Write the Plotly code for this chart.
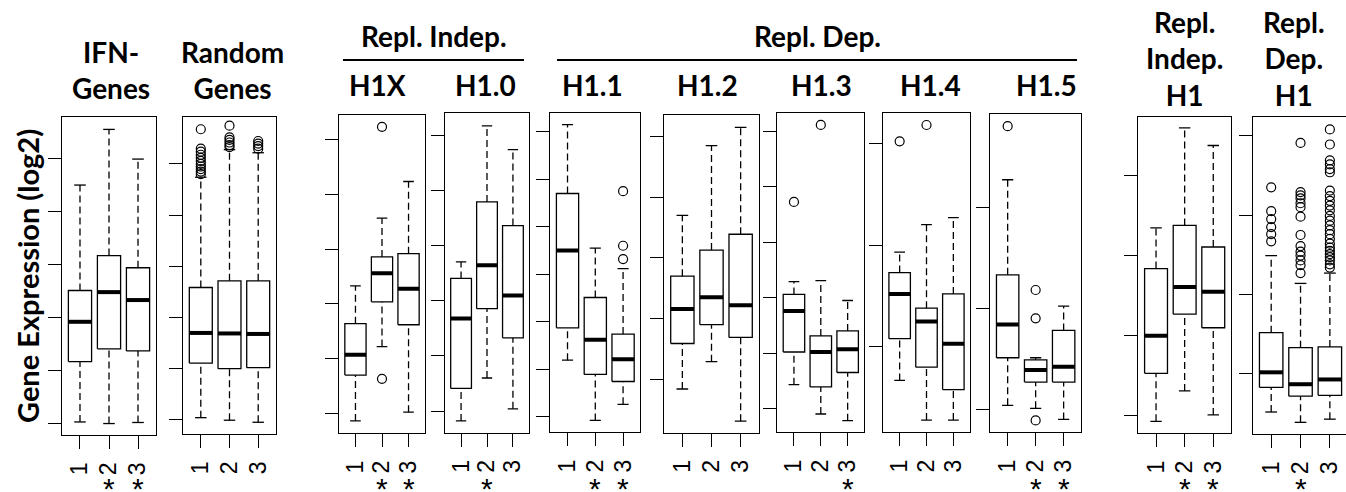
import plotly.graph_objects as go

W, H = 1346, 492

# ---------------- data (arbitrary log2 units, ticks at integers) ----------------
panel_names = ["IFN-Genes", "Random Genes", "H1X", "H1.0", "H1.1", "H1.2",
               "H1.3", "H1.4", "H1.5", "Repl. Indep. H1", "Repl. Dep. H1"]
groups = [1, 2, 3]
tick_labels = ["1", "2", "3"]

lower_whisker = [
    [0.02, -0.01, 0.01],
    [0.03, -0.02, -0.06],
    [-0.14, 1.22, 0.02],
    [-0.18, 0.60, 0.04],
    [1.19, -0.08, 0.26],
    [-0.16, 0.29, -0.69],
    [0.43, -0.10, -0.22],
    [-0.33, -0.72, -0.72],
    [0.04, 0.01, -0.10],
    [-0.07, 0.31, 0.01],
    [-0.48, -0.61, -0.57],
]
q1 = [
    [1.16, 1.40, 1.36],
    [1.10, 0.99, 1.01],
    [0.70, 2.04, 1.62],
    [0.41, 1.86, 1.33],
    [1.87, 0.89, 0.74],
    [0.59, 0.90, 0.69],
    [1.02, 0.39, 0.65],
    [0.08, -0.20, -0.42],
    [0.51, 0.27, 0.27],
    [0.53, 1.27, 1.10],
    [-0.17, -0.28, -0.27],
]
median = [
    [1.91, 2.47, 2.32],
    [1.69, 1.68, 1.67],
    [1.07, 2.56, 2.28],
    [1.68, 2.65, 2.10],
    [3.50, 1.62, 1.21],
    [1.16, 1.35, 1.22],
    [1.76, 1.02, 1.07],
    [0.52, 0.25, 0.03],
    [0.84, 0.39, 0.42],
    [1.00, 1.61, 1.55],
    [0.02, -0.13, -0.07],
]
q3 = [
    [2.50, 3.16, 2.93],
    [2.58, 2.71, 2.71],
    [1.64, 2.86, 2.92],
    [2.41, 3.80, 3.37],
    [4.70, 2.51, 1.74],
    [1.70, 2.13, 2.39],
    [2.06, 1.31, 1.40],
    [0.73, 0.38, 0.52],
    [1.33, 0.49, 0.78],
    [1.84, 2.38, 2.11],
    [0.52, 0.33, 0.34],
]
upper_whisker = [
    [4.49, 5.54, 4.98],
    [4.74, 5.28, 5.22],
    [2.33, 3.57, 4.24],
    [2.71, 5.18, 4.75],
    [6.15, 3.55, 3.12],
    [2.70, 3.85, 4.15],
    [2.29, 2.31, 1.95],
    [0.93, 1.20, 1.27],
    [2.27, 0.51, 1.02],
    [2.35, 3.60, 3.38],
    [1.49, 1.14, 1.27],
]
outliers = [
    [[], [], []],
    [[5.68, 5.30, 5.24, 5.18, 5.12, 5.06, 5.00, 4.95, 4.90, 4.85, 4.80],
     [5.75, 5.52, 5.47, 5.42, 5.37, 5.33],
     [5.45, 5.40, 5.35, 5.30]],
    [[], [5.24, 0.63], []],
    [[], [], []],
    [[], [], [4.75, 3.60, 3.32]],
    [[], [], []],
    [[3.73], [5.12], []],
    [[2.02], [2.18], []],
    [[2.80], [1.18, 0.90, -0.11], []],
    [[], [], []],
    [[2.35, 2.05, 1.95, 1.85, 1.76, 1.67],
     [2.91, 2.29, 2.25, 2.21, 2.15, 2.10, 1.98, 1.75, 1.61, 1.54, 1.49, 1.43, 1.37, 1.27],
     [3.08, 2.89, 2.69, 2.64, 2.58, 2.54, 2.31, 2.24, 2.18, 2.12, 2.06, 1.99, 1.93,
      1.87, 1.81, 1.76, 1.70, 1.64, 1.59, 1.55, 1.51, 1.47, 1.43, 1.38, 1.34]],
]
significant = [[2, 3], [], [2, 3], [2], [2, 3], [], [3], [], [2, 3], [2, 3], [2]]

# ---------------- layout configuration (pixels) ----------------
panel_px = [  # x0, x1, y_top, y_bottom
    (62, 156, 117, 435),
    (183, 276, 117, 434),
    (339, 425, 115, 433.3),
    (445, 529, 113.3, 432.7),
    (550.3, 640.3, 113.3, 432.3),
    (664.3, 758.7, 114.7, 432.7),
    (777.3, 864.3, 113.3, 432.3),
    (883, 970, 113.3, 432.3),
    (990.3, 1081, 114, 432.3),
    (1138.3, 1231, 116.7, 433.3),
    (1253, 1346, 116.7, 434),
]
y_ranges = [
    [-0.226, 5.774], [-0.29, 5.92], [-0.366, 5.457], [-0.394, 5.41],
    [-0.33, 6.39], [-0.88, 4.36], [-0.43, 5.33], [-0.84, 2.295],
    [-0.227, 2.92], [-0.22, 3.74], [-0.757, 3.24],
]
x_ranges = [[0.38, 3.62]] * 10 + [[0.38, 3.55]]

BOX_HALF = 0.4
STAPLE_HALF = 0.2
LW = 1.3
TITLE_FONT = dict(family="Lato", size=28, color="black")
TICK_FONT = dict(family="Liberation Sans", size=23, color="black")


def px_x(v):
    return v / W


def px_y(v):
    return 1 - v / H


fig = go.Figure()
layout = {}
annotations = []

for i in range(len(panel_names)):
    xa = "x" if i == 0 else f"x{i + 1}"
    ya = "y" if i == 0 else f"y{i + 1}"
    wx, wy, sx, sy, bx, by, mx, my, ox, oy = ([] for _ in range(10))
    for j, g in enumerate(groups):
        lo, a, m, b, hi = (lower_whisker[i][j], q1[i][j], median[i][j],
                           q3[i][j], upper_whisker[i][j])
        wx += [g, g, None, g, g, None]
        wy += [b, hi, None, lo, a, None]
        sx += [g - STAPLE_HALF, g + STAPLE_HALF, None, g - STAPLE_HALF, g + STAPLE_HALF, None]
        sy += [hi, hi, None, lo, lo, None]
        bx += [g - BOX_HALF, g + BOX_HALF, g + BOX_HALF, g - BOX_HALF, g - BOX_HALF, None]
        by += [a, a, b, b, a, None]
        mx += [g - BOX_HALF, g + BOX_HALF, None]
        my += [m, m, None]
        ox += [g] * len(outliers[i][j])
        oy += outliers[i][j]
    common = dict(xaxis=xa, yaxis=ya, showlegend=False, hoverinfo="skip")
    fig.add_trace(go.Scatter(x=wx, y=wy, mode="lines",
                             line=dict(color="black", width=LW, dash="7px,4px"), **common))
    fig.add_trace(go.Scatter(x=sx, y=sy, mode="lines",
                             line=dict(color="black", width=LW), **common))
    fig.add_trace(go.Scatter(x=bx, y=by, mode="lines",
                             line=dict(color="black", width=LW), **common))
    fig.add_trace(go.Scatter(x=mx, y=my, mode="lines",
                             line=dict(color="black", width=4), **common))
    if ox:
        fig.add_trace(go.Scatter(x=ox, y=oy, mode="markers",
                                 marker=dict(symbol="circle-open", size=9,
                                             color="black", line=dict(width=1.2)),
                                 **common))

    x0, x1, yt, yb = panel_px[i]
    axis_common = dict(showline=True, linecolor="black", linewidth=LW,
                       ticks="outside", ticklen=13, tickwidth=LW, tickcolor="black",
                       showgrid=False, zeroline=False, fixedrange=True)
    layout["xaxis" if i == 0 else f"xaxis{i + 1}"] = dict(
        domain=[px_x(x0), min(1.0, px_x(x1))], anchor=ya, range=x_ranges[i],
        tickmode="array", tickvals=groups, ticktext=tick_labels, tickangle=-90,
        tickfont=TICK_FONT, ticklabelstandoff=4, mirror=True, **axis_common)
    layout["yaxis" if i == 0 else f"yaxis{i + 1}"] = dict(
        domain=[px_y(yb), px_y(yt)], anchor=xa, range=y_ranges[i],
        tickmode="linear", tick0=0, dtick=1, showticklabels=False,
        mirror=(i != len(panel_names) - 1), **axis_common)

    for g in significant[i]:
        annotations.append(dict(x=g, y=px_y(488), xref=xa, yref="paper", text="*",
                                showarrow=False, xanchor="center", yanchor="middle",
                                font=dict(family="Liberation Sans", size=30, color="black")))

# panel titles (text, x center px, y center px)
titles = [
    ("IFN-<br>Genes", 111, 70),
    ("Random<br>Genes", 232, 70),
    ("Repl. Indep.", 434, 36), ("Repl. Dep.", 818, 36),
    ("H1X", 377, 85), ("H1.0", 485, 85), ("H1.1", 592, 85), ("H1.2", 707, 85),
    ("H1.3", 821, 85), ("H1.4", 930, 85), ("H1.5", 1046, 85),
    ("Repl.<br>Indep.<br>H1", 1184, 58),
    ("Repl.<br>Dep.<br>H1", 1294, 58),
]
for text, cx, cy in titles:
    annotations.append(dict(x=px_x(cx), y=px_y(cy), xref="paper", yref="paper",
                            text="<br>".join(f"<b>{t}</b>" for t in text.split("<br>")),
                            showarrow=False, xanchor="center", yanchor="middle",
                            font=TITLE_FONT))

annotations.append(dict(x=px_x(27), y=px_y(276), xref="paper", yref="paper",
                        text="<b>Gene Expression (log2)</b>", textangle=-90,
                        showarrow=False, xanchor="center", yanchor="middle",
                        font=dict(family="Lato", size=29, color="black")))

shapes = [
    dict(type="line", xref="paper", yref="paper", x0=px_x(343), x1=px_x(524),
         y0=px_y(60), y1=px_y(60), line=dict(color="black", width=2)),
    dict(type="line", xref="paper", yref="paper", x0=px_x(557), x1=px_x(1077),
         y0=px_y(60), y1=px_y(60), line=dict(color="black", width=2)),
]

fig.update_layout(width=W, height=H, margin=dict(l=0, r=0, t=0, b=0),
                  paper_bgcolor="white", plot_bgcolor="white",
                  annotations=annotations, shapes=shapes, showlegend=False,
                  **layout)

fig.write_html("out.html", config={"displayModeBar": False},
               post_script="document.body.style.margin='0';document.body.style.overflow='hidden';")
